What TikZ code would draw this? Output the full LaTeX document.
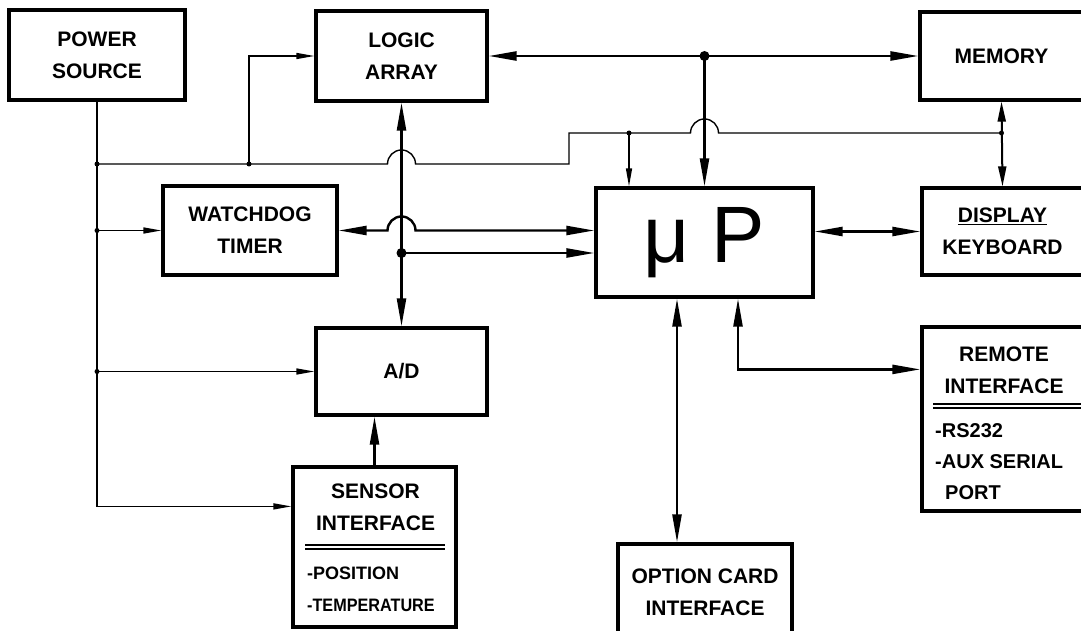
\documentclass[tikz,border=0pt]{standalone}
\usepackage{fontspec}
\setmainfont{Liberation Sans}
\usetikzlibrary{arrows.meta}

\begin{document}
\begin{tikzpicture}[x=1pt, y=-1pt,
  box/.style={draw, line width=3.2pt, inner sep=0pt, align=center,
    font=\fontsize{21}{32}\selectfont\bfseries},
  lbl/.style={inner sep=0pt, align=center, font=\fontsize{21}{32}\selectfont\bfseries},
  listtxt/.style={inner sep=0pt, anchor=west, font=\fontsize{20}{32}\selectfont\bfseries},
  sig/.style={line width=2.4pt, >={Triangle[length=28pt,width=9pt]}},
  sigs/.style={line width=2pt, >={Triangle[length=20pt,width=8pt]}},
  pw/.style={line width=1.4pt, >={Triangle[length=18pt,width=6pt]}}]
  \useasboundingbox (0,0) rectangle (1081,631);
  \clip (0,0) rectangle (1081,631);

  % Blocks
  \node[box, minimum width=176pt, minimum height=90pt] (pwr) at (97,55) {POWER\\SOURCE};
  \node[box, minimum width=171pt, minimum height=90pt] (logic) at (401.5,56) {LOGIC\\ARRAY};
  \node[box, minimum width=163pt, minimum height=88pt] (mem) at (1001.5,56) {MEMORY};
  \node[box, minimum width=174pt, minimum height=89pt] (dog) at (250,230.5) {WATCHDOG\\TIMER};
  \node[box, minimum width=217pt, minimum height=109pt,
        font=\fontsize{80}{80}\selectfont] (up) at (704.5,242.5) {μ P};
  \node[box, minimum width=161pt, minimum height=87pt] (disp) at (1002.5,231.5) {\underline{DISPLAY}\\KEYBOARD};
  \node[box, minimum width=171pt, minimum height=87pt] (ad) at (401.5,371.5) {A/D};
  \node[box, minimum width=161pt, minimum height=184pt] (rem) at (1002.5,419) {};
  \node[box, minimum width=163pt, minimum height=160pt] (sens) at (374.5,547) {};
  \node[box, minimum width=174pt, minimum height=96pt] (opt) at (705,592) {OPTION CARD\\INTERFACE};

  % Remote interface contents
  \node[lbl] (remt) at (1004,370.5) {REMOTE\\INTERFACE};
  \draw[line width=1.2pt] (933,404) -- (1083,404) (933,408) -- (1083,408);
  \node[listtxt] (rs) at (935,431) {-RS232};
  \node[listtxt] (aux) at (935,462) {-AUX SERIAL};
  \node[listtxt] (port) at (945,493) {PORT};

  % Sensor interface contents
  \node[lbl] (senst) at (375.5,507) {SENSOR\\INTERFACE};
  \draw[line width=1.2pt] (305,545) -- (445,545) (305,549) -- (445,549);
  \node[listtxt, font=\fontsize{18}{21}\selectfont\bfseries] (pos) at (307,573) {-POSITION};
  \node[listtxt, font=\fontsize{18}{21}\selectfont\bfseries] (temp) at (307,605) {\scalebox{0.9}[1]{-TEMPERATURE}};

  % Junctions
  \coordinate (pa) at (97,164);
  \coordinate (pb) at (249,164);
  \coordinate (pc) at (629,133);
  \coordinate (pm) at (mem.south |- pc);
  \coordinate (pd) at (pwr.south |- dog.west);
  \coordinate (pe) at (pwr.south |- ad.west);
  \coordinate (ps) at ([yshift=-41pt]sens.north west);
  \coordinate (jb) at (up.north |- logic.east);
  \coordinate (ja) at (401.5,253);

  % Power lines
  \draw[pw,->] (pwr.south) -- (pwr.south |- ps) -- (ps);
  \draw[pw,->] (pd) -- (dog.west);
  \draw[pw,->] (pe) -- (ad.west);
  \draw[pw,->] (pb) |- (logic.west);
  \draw[pw] (pa) -- (387.5,164) arc[start angle=180, end angle=0, radius=14pt]
    -- (569,164) -- (569,133) -- (690.5,133)
    arc[start angle=180, end angle=0, radius=14pt] -- (pm);
  \draw[pw,->] (pc) -- (pc |- up.north);

  % Data lines
  \draw[sig,<->] (logic.east) -- (mem.west);
  \draw[sig,->] (jb) -- (up.north);
  \draw[sig,<->] (logic.south) -- (ad.north);
  \draw[sig,->] (ja) -- (ja -| up.west);
  \draw[sig,<->] (dog.east) -- (387.5,230.5) arc[start angle=180, end angle=0, radius=14pt]
    -- (up.west |- dog.east);
  \draw[sig,->] (sens.north) -- (sens.north |- ad.south);
  \draw[sig,<->] (up.east |- disp.west) -- (disp.west);
  \draw[sigs,<->] (mem.south) -- (disp.north);
  \draw[sig,<->] ([xshift=-27.5pt]up.south) -- ([xshift=-27.5pt]up.south |- opt.north);
  \draw[sig,<->] ([xshift=33.5pt]up.south) |- ([yshift=-44pt]rem.north west);

  % Dots
  \foreach \p in {pa,pb,pc,pm,pd,pe}
    \fill (\p) circle[radius=2.5pt];
  \foreach \p in {jb,ja}
    \fill (\p) circle[radius=5pt];
\end{tikzpicture}
\end{document}
